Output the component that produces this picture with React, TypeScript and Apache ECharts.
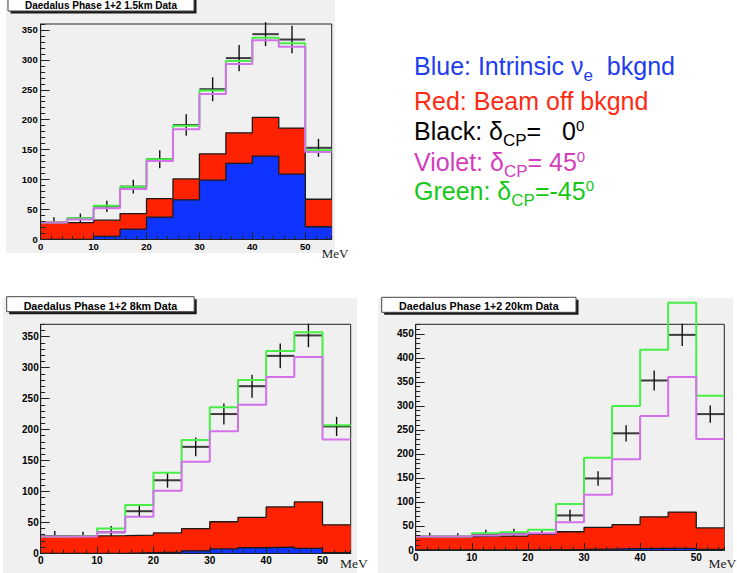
import React, { useEffect, useRef } from 'react';
import * as echarts from 'echarts';

// ---------- data ----------
const EDGES = [0, 5, 10, 15, 20, 25, 30, 35, 40, 45, 50, 55];
const X_TICKS = [0, 10, 20, 30, 40, 50];
const Y_TICKS_A = [0, 50, 100, 150, 200, 250, 300, 350];
const Y_TICKS_B = [0, 50, 100, 150, 200, 250, 300, 350, 400, 450];

const P1_TITLE = 'Daedalus Phase 1+2 1.5km Data';
const P1_BLUE = [0, 0, 5, 17, 37, 66, 99, 127, 139, 109, 21];
const P1_RED = [28, 28, 32, 43, 68, 101, 143, 178, 204, 186, 67];
const P1_GREEN = [28, 35, 56, 88, 134, 190, 249, 298, 337, 328, 149];
const P1_VIOLET = [28, 33, 52, 84, 131, 184, 243, 293, 333, 322, 146];
const P1_DATA = [28, 35, 55, 88, 134, 191, 251, 303, 343, 334, 153];
const P1_ERR = [9, 8, 9.5, 11.5, 15, 18, 20, 22, 20, 23, 15];

const P2_TITLE = 'Daedalus Phase 1+2 8km Data';
const P2_BLUE = [0, 0, 0, 1, 2, 4, 7, 9, 10, 8, 1];
const P2_RED = [28, 28, 28.5, 29.5, 33, 40, 51, 58, 75, 83, 46];
const P2_GREEN = [27, 28, 40, 78, 130, 183, 236, 280, 327, 357, 207];
const P2_VIOLET = [27, 27, 34, 59, 101, 148, 197, 240, 285, 317, 184];
const P2_DATA = [28, 28, 34, 68, 118, 172, 225, 270, 319, 352, 205];
const P2_ERR = [8, 7, 10, 9.5, 12, 15, 17, 18.5, 20, 19, 15.5];

const P3_TITLE = 'Daedalus Phase 1+2 20km Data';
const P3_BLUE = [0, 0, 0, 0, 0.5, 1, 2, 3, 3.5, 3.5, 1];
const P3_RED = [28, 28, 29, 29, 33, 38, 47, 53, 69, 79, 46];
const P3_GREEN = [28, 28, 35, 37, 42, 96, 192, 300, 417, 515, 321];
const P3_VIOLET = [28, 28, 30, 33, 35, 58, 115, 189, 279, 360, 231];
const P3_DATA = [28, 28, 33, 35, 33, 72, 149, 243, 353, 448, 283];
const P3_ERR = [8, 7, 9, 9, 8, 12, 15, 17, 21, 23, 18];

const X_UNIT = 'MeV';

type Seg = { t: string; k: 'm' | 'sub' | 'sup' };
const LEGEND: { color: string; segs: Seg[] }[] = [
  { color: '#1e3cf2', segs: [{ t: 'Blue: Intrinsic ν', k: 'm' }, { t: 'e', k: 'sub' }, { t: '  bkgnd', k: 'm' }] },
  { color: '#ff2a12', segs: [{ t: 'Red: Beam off bkgnd', k: 'm' }] },
  { color: '#000000', segs: [{ t: 'Black: δ', k: 'm' }, { t: 'CP', k: 'sub' }, { t: '=   0', k: 'm' }, { t: '0', k: 'sup' }] },
  { color: '#d43cbd', segs: [{ t: 'Violet: δ', k: 'm' }, { t: 'CP', k: 'sub' }, { t: '= 45', k: 'm' }, { t: '0', k: 'sup' }] },
  { color: '#16c816', segs: [{ t: 'Green: δ', k: 'm' }, { t: 'CP', k: 'sub' }, { t: '=-45', k: 'm' }, { t: '0', k: 'sup' }] },
];

// ---------- layout ----------
const FONT = '"Liberation Sans", Arial, Helvetica, sans-serif';
const SERIF = '"Liberation Serif", "Times New Roman", serif';

const PANELS = [
  {
    title: P1_TITLE, blue: P1_BLUE, red: P1_RED, green: P1_GREEN, violet: P1_VIOLET, data: P1_DATA, err: P1_ERR,
    grid: { left: 40.7, top: 24, width: 291, height: 215.3 }, yMax: 360, yTicks: Y_TICKS_A,
    fs: 9.5, titleFs: 10, canvas: [6, -2, 329, 255], box: [8, -5, 186, 16], titleY: 5.8,
    mev: [321.7, 253.6, 13], yMargin: 3,
  },
  {
    title: P2_TITLE, blue: P2_BLUE, red: P2_RED, green: P2_GREEN, violet: P2_VIOLET, data: P2_DATA, err: P2_ERR,
    grid: { left: 40.7, top: 324.3, width: 310, height: 229 }, yMax: 370, yTicks: Y_TICKS_A,
    fs: 10, titleFs: 10.7, canvas: [3, 298, 354, 276], box: [6.7, 296.7, 187.5, 15], titleY: 305.6,
    mev: [340, 563.4, 13.5], yMargin: 2,
  },
  {
    title: P3_TITLE, blue: P3_BLUE, red: P3_RED, green: P3_GREEN, violet: P3_VIOLET, data: P3_DATA, err: P3_ERR,
    grid: { left: 415.7, top: 324.3, width: 308.6, height: 225.7 }, yMax: 470, yTicks: Y_TICKS_B,
    fs: 10, titleFs: 10.7, canvas: [378, 298, 355, 276], box: [381.7, 297.3, 194.3, 15], titleY: 306.3,
    mev: [708.5, 563.4, 13.5], yMargin: 2,
  },
];

const LEG_X = 414;
const LEG_BASE = [75, 110, 140, 171, 200];

function stepPoints(vals: number[]) {
  return EDGES.map((e, i) => [e, vals[Math.min(i, vals.length - 1)]]);
}

function buildOption() {
  const cvs = document.createElement('canvas');
  const ctx = cvs.getContext('2d')!;
  const tw = (t: string, size: number) => {
    ctx.font = `${size}px ${FONT}`;
    return ctx.measureText(t).width;
  };

  const grids: any[] = [];
  const xAxes: any[] = [];
  const yAxes: any[] = [];
  const series: any[] = [];
  const graphics: any[] = [];

  PANELS.forEach((p, i) => {
    grids.push({
      ...p.grid, show: true, backgroundColor: '#f0f0f0', borderColor: '#222', borderWidth: 1,
      containLabel: false, outerBoundsMode: 'none',
    });
    const labelStyle = { color: '#000', fontWeight: 'bold', fontFamily: FONT, fontSize: p.fs };
    xAxes.push({
      type: 'value', gridIndex: i, min: 0, max: 55, interval: 10, position: 'bottom', z: 10,
      axisLine: { show: true, lineStyle: { color: '#222', width: 1 } },
      axisTick: { show: true, inside: true, length: 7, customValues: X_TICKS, lineStyle: { color: '#222', width: 1 } },
      axisLabel: { show: true, customValues: X_TICKS, margin: 2, ...labelStyle },
      splitLine: { show: false },
    });
    xAxes.push({
      type: 'value', gridIndex: i, min: 0, max: 55, interval: 2, position: 'bottom', z: 10,
      axisLine: { show: false },
      axisTick: { show: true, inside: true, length: 3.5, lineStyle: { color: '#222', width: 1 } },
      axisLabel: { show: false }, splitLine: { show: false },
    });
    yAxes.push({
      type: 'value', gridIndex: i, min: 0, max: p.yMax, interval: 50, position: 'left', z: 10,
      axisLine: { show: true, lineStyle: { color: '#222', width: 1 } },
      axisTick: { show: true, inside: true, length: 9, customValues: p.yTicks, lineStyle: { color: '#222', width: 1 } },
      axisLabel: { show: true, customValues: p.yTicks, margin: p.yMargin, ...labelStyle },
      splitLine: { show: false },
    });
    yAxes.push({
      type: 'value', gridIndex: i, min: 0, max: p.yMax, interval: 10, position: 'left', z: 10,
      axisLine: { show: false },
      axisTick: { show: true, inside: true, length: 4.5, lineStyle: { color: '#222', width: 1 } },
      axisLabel: { show: false }, splitLine: { show: false },
    });

    const xi = 2 * i;
    const yi = 2 * i;

    series.push({
      type: 'custom', xAxisIndex: xi, yAxisIndex: yi, z: 2, clip: false,
      data: p.data.map((v, k) => [EDGES[k], EDGES[k + 1], v, p.err[k]]),
      encode: { x: [0, 1], y: 2 },
      renderItem: (_params: any, api: any) => {
        const lo = api.value(0), hi = api.value(1), v = api.value(2), e = api.value(3);
        const c = (lo + hi) / 2;
        const a = api.coord([lo, v]);
        const b = api.coord([hi, v]);
        const t = api.coord([c, v + e]);
        const d = api.coord([c, v - e]);
        return {
          type: 'group',
          children: [
            { type: 'line', shape: { x1: a[0], y1: a[1], x2: b[0], y2: b[1] }, style: { stroke: '#3c3c3c', lineWidth: 2 } },
            { type: 'line', shape: { x1: t[0], y1: t[1], x2: d[0], y2: d[1] }, style: { stroke: '#111', lineWidth: 1.4 } },
          ],
        };
      },
    });
    series.push({
      type: 'line', xAxisIndex: xi, yAxisIndex: yi, z: 3, step: 'end', symbol: 'none',
      data: stepPoints(p.red),
      lineStyle: { color: '#1a1a1a', width: 1.3 },
      areaStyle: { color: '#ff2200', opacity: 1 },
    });
    series.push({
      type: 'line', xAxisIndex: xi, yAxisIndex: yi, z: 4, step: 'end', symbol: 'none',
      data: stepPoints(p.blue),
      lineStyle: { color: '#1a1a1a', width: 1.3 },
      areaStyle: { color: '#1034ff', opacity: 1 },
    });
    series.push({
      type: 'line', xAxisIndex: xi, yAxisIndex: yi, z: 5, step: 'end', symbol: 'none', clip: false,
      data: stepPoints(p.green),
      lineStyle: { color: '#46ee46', width: 2 },
    });
    series.push({
      type: 'line', xAxisIndex: xi, yAxisIndex: yi, z: 6, step: 'end', symbol: 'none', clip: false,
      data: stepPoints(p.violet),
      lineStyle: { color: '#d470ea', width: 2 },
    });

    graphics.push({
      type: 'rect', z: -5, silent: true,
      shape: { x: p.canvas[0], y: p.canvas[1], width: p.canvas[2], height: p.canvas[3] },
      style: { fill: '#f0f0f0' },
    });
    graphics.push({
      type: 'rect', z: 20, silent: true,
      shape: { x: p.box[0] + 2.5, y: p.box[1] + 2.5, width: p.box[2], height: p.box[3] },
      style: { fill: '#1a1a1a' },
    });
    graphics.push({
      type: 'rect', z: 21, silent: true,
      shape: { x: p.box[0], y: p.box[1], width: p.box[2], height: p.box[3] },
      style: { fill: '#ffffff', stroke: '#444', lineWidth: 1 },
    });
    graphics.push({
      type: 'text', z: 22, silent: true,
      style: {
        text: p.title, x: p.box[0] + p.box[2] / 2, y: p.titleY, fill: '#000',
        fontSize: p.titleFs, fontWeight: 'bold', fontFamily: FONT,
        align: 'center', verticalAlign: 'middle', textAlign: 'center', textVerticalAlign: 'middle',
      },
    });
    graphics.push({
      type: 'text', z: 22, silent: true,
      style: {
        text: X_UNIT, x: p.mev[0], y: p.mev[1], fill: '#222',
        fontSize: p.mev[2], fontFamily: SERIF,
        align: 'left', verticalAlign: 'middle', textAlign: 'left', textVerticalAlign: 'middle',
      },
    });
  });

  LEGEND.forEach((line, li) => {
    let x = LEG_X;
    const base = LEG_BASE[li];
    line.segs.forEach((s) => {
      const size = s.k === 'm' ? 25 : s.k === 'sub' ? 17 : 15;
      const b = base + (s.k === 'sub' ? 6.5 : s.k === 'sup' ? -9 : 0);
      graphics.push({
        type: 'text', z: 22, silent: true,
        style: {
          text: s.t, x, y: b - 0.3465 * size, fill: line.color,
          fontSize: size, fontFamily: FONT,
          align: 'left', verticalAlign: 'middle', textAlign: 'left', textVerticalAlign: 'middle',
        },
      });
      x += tw(s.t, size);
    });
  });

  return {
    animation: false,
    backgroundColor: '#ffffff',
    grid: grids,
    xAxis: xAxes,
    yAxis: yAxes,
    series,
    graphic: { elements: graphics },
  };
}

export default function App() {
  const ref = useRef<HTMLDivElement>(null);
  useEffect(() => {
    const el = ref.current!;
    const chart = echarts.init(el, null, { renderer: 'svg', width: 737, height: 573 });
    chart.setOption(buildOption() as any);
    return () => chart.dispose();
  }, []);
  return (
    <div
      ref={ref}
      style={{ position: 'absolute', left: 0, top: 0, width: 737, height: 573, background: '#fff' }}
    />
  );
}
